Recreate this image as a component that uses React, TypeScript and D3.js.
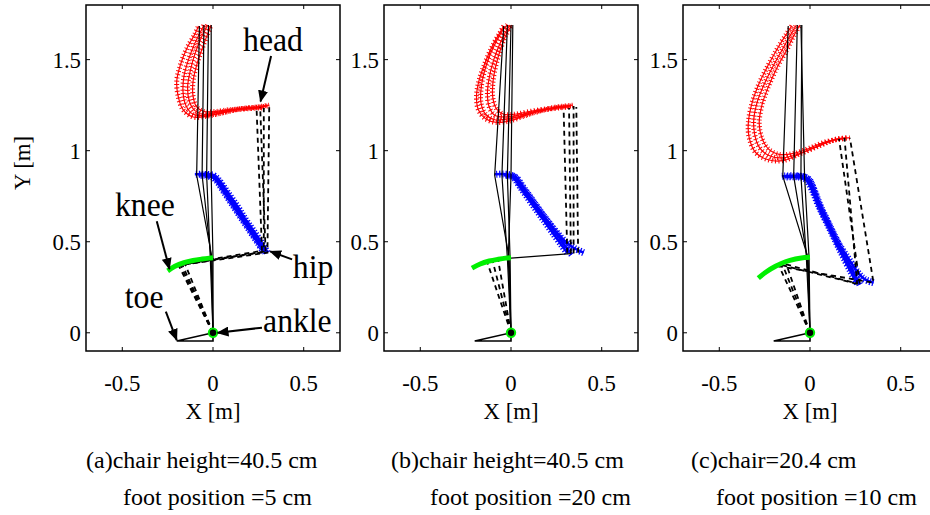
import React from "react";
import * as d3 from "d3";

type Pt = [number, number];

// axis ticks
const xTicks = [-0.5, 0, 0.5];
const xTickLabels = ["-0.5", "0", "0.5"];
const yTicks = [0, 0.5, 1, 1.5];
const yTickLabels = ["0", "0.5", "1", "1.5"];

const captionTop = ["(a)chair height=40.5 cm", "(b)chair height=40.5 cm", "(c)chair=20.4 cm"];
const captionBottom = ["foot position =5 cm", "foot position =20 cm", "foot position =10 cm"];

// ---------- panel (a) ----------
const headA1: Pt[] = [[0.31, 1.25], [0.24, 1.24], [0.15, 1.23], [0.06, 1.21], [-0.03, 1.19], [-0.11, 1.185], [-0.165, 1.225], [-0.19, 1.29], [-0.2, 1.38], [-0.18, 1.47], [-0.145, 1.56], [-0.1, 1.64], [-0.08, 1.685]];
const headA2: Pt[] = [[0.3, 1.245], [0.22, 1.235], [0.13, 1.225], [0.04, 1.205], [-0.04, 1.195], [-0.11, 1.2], [-0.15, 1.25], [-0.165, 1.32], [-0.16, 1.41], [-0.135, 1.5], [-0.1, 1.59], [-0.07, 1.65], [-0.05, 1.69]];
const headA3: Pt[] = [[0.28, 1.24], [0.2, 1.235], [0.11, 1.225], [0.02, 1.21], [-0.05, 1.2], [-0.1, 1.22], [-0.13, 1.27], [-0.14, 1.35], [-0.125, 1.44], [-0.1, 1.53], [-0.065, 1.62], [-0.04, 1.67], [-0.03, 1.69]];
const headA4: Pt[] = [[0.27, 1.235], [0.18, 1.23], [0.09, 1.225], [0.01, 1.215], [-0.05, 1.215], [-0.09, 1.24], [-0.11, 1.3], [-0.11, 1.38], [-0.09, 1.47], [-0.06, 1.56], [-0.03, 1.64], [-0.01, 1.69]];
const hipA1: Pt[] = [[0.3, 0.44], [0.27, 0.49], [0.23, 0.55], [0.18, 0.62], [0.13, 0.7], [0.08, 0.77], [0.03, 0.84], [0.0, 0.865], [-0.05, 0.87], [-0.1, 0.87]];
const hipA2: Pt[] = [[0.28, 0.445], [0.25, 0.49], [0.21, 0.55], [0.16, 0.625], [0.11, 0.7], [0.06, 0.775], [0.02, 0.835], [-0.01, 0.86], [-0.05, 0.865], [-0.08, 0.865]];
const hipA3: Pt[] = [[0.29, 0.44], [0.26, 0.485], [0.22, 0.545], [0.17, 0.62], [0.12, 0.695], [0.07, 0.77], [0.03, 0.83], [0.0, 0.855], [-0.04, 0.86]];
const kneeA: Pt[] = [[-0.25, 0.34], [-0.21, 0.365], [-0.16, 0.385], [-0.11, 0.397], [-0.06, 0.405], [-0.02, 0.41], [0.0, 0.412]];
const standA: Pt[][] = [
  [[0, 0], [-0.005, 0.41], [-0.09, 0.865], [-0.075, 1.685]],
  [[0, 0], [-0.01, 0.41], [-0.06, 0.865], [-0.05, 1.69]],
  [[0, 0], [-0.015, 0.41], [-0.035, 0.865], [-0.025, 1.69]],
  [[0, 0], [0.0, 0.41], [-0.01, 0.865], [-0.01, 1.69]],
];
const sitA: Pt[][] = [
  [[0, 0], [-0.17, 0.375], [0.28, 0.445], [0.28, 1.235]],
  [[0, 0], [-0.19, 0.37], [0.3, 0.44], [0.31, 1.245]],
  [[0, 0], [-0.155, 0.38], [0.27, 0.45], [0.24, 1.235]],
  [[0, 0], [-0.18, 0.372], [0.29, 0.445], [0.26, 1.24]],
];

// ---------- panel (b) ----------
const headB1: Pt[] = [[0.34, 1.25], [0.25, 1.24], [0.16, 1.22], [0.07, 1.19], [0.0, 1.165], [-0.08, 1.155], [-0.14, 1.175], [-0.18, 1.225], [-0.19, 1.3], [-0.175, 1.39], [-0.14, 1.49], [-0.1, 1.58], [-0.06, 1.65], [-0.04, 1.685]];
const headB2: Pt[] = [[0.33, 1.245], [0.24, 1.235], [0.15, 1.215], [0.06, 1.19], [-0.02, 1.175], [-0.09, 1.17], [-0.14, 1.2], [-0.165, 1.26], [-0.165, 1.34], [-0.145, 1.44], [-0.11, 1.54], [-0.07, 1.62], [-0.04, 1.67], [-0.02, 1.69]];
const headB3: Pt[] = [[0.32, 1.24], [0.22, 1.23], [0.13, 1.215], [0.04, 1.195], [-0.03, 1.185], [-0.09, 1.195], [-0.12, 1.24], [-0.13, 1.31], [-0.12, 1.4], [-0.095, 1.5], [-0.06, 1.59], [-0.03, 1.65], [-0.005, 1.69]];
const headB4: Pt[] = [[0.3, 1.24], [0.2, 1.23], [0.1, 1.215], [0.02, 1.2], [-0.04, 1.2], [-0.08, 1.23], [-0.1, 1.29], [-0.1, 1.37], [-0.085, 1.46], [-0.06, 1.55], [-0.03, 1.63], [0.005, 1.69]];
const hipB1: Pt[] = [[0.335, 0.43], [0.3, 0.475], [0.26, 0.53], [0.21, 0.6], [0.16, 0.665], [0.11, 0.735], [0.06, 0.8], [0.02, 0.855], [-0.02, 0.87], [-0.09, 0.87]];
const hipB2: Pt[] = [[0.31, 0.44], [0.28, 0.48], [0.24, 0.535], [0.19, 0.605], [0.14, 0.675], [0.09, 0.745], [0.045, 0.81], [0.01, 0.855], [-0.04, 0.865]];
const hipB3: Pt[] = [[0.4, 0.44], [0.34, 0.47], [0.28, 0.52], [0.22, 0.59], [0.17, 0.655], [0.12, 0.725], [0.07, 0.795], [0.03, 0.85], [0.0, 0.865]];
const kneeB: Pt[] = [[-0.215, 0.355], [-0.17, 0.378], [-0.12, 0.394], [-0.07, 0.404], [-0.03, 0.41], [0.0, 0.412]];
const standB: Pt[][] = [
  [[0, 0], [-0.01, 0.41], [-0.09, 0.865], [-0.04, 1.685]],
  [[0, 0], [-0.02, 0.41], [-0.05, 0.865], [-0.02, 1.69]],
  [[0, 0], [-0.005, 0.41], [-0.02, 0.865], [0.0, 1.69]],
  [[0, 0], [-0.015, 0.41], [0.0, 0.865], [0.01, 1.69]],
  [[0.0, 0.41], [0.33, 0.435]],
];
const sitB: Pt[][] = [
  [[0, 0], [-0.1, 0.39]],
  [[0, 0], [-0.13, 0.385]],
  [[0, 0], [-0.07, 0.395]],
  [[0.33, 0.435], [0.32, 1.235]],
  [[0.345, 0.435], [0.345, 1.245]],
  [[0.31, 0.44], [0.29, 1.23]],
  [[0.37, 0.44], [0.36, 1.24]],
];

// ---------- panel (c) ----------
const headC1: Pt[] = [[0.22, 1.07], [0.15, 1.065], [0.06, 1.03], [-0.05, 0.985], [-0.15, 0.945], [-0.23, 0.95], [-0.3, 0.99], [-0.335, 1.07], [-0.34, 1.15], [-0.32, 1.26], [-0.28, 1.37], [-0.23, 1.47], [-0.18, 1.56], [-0.13, 1.64], [-0.1, 1.685]];
const headC2: Pt[] = [[0.2, 1.07], [0.12, 1.055], [0.03, 1.02], [-0.07, 0.98], [-0.16, 0.96], [-0.23, 0.975], [-0.28, 1.02], [-0.305, 1.09], [-0.31, 1.17], [-0.29, 1.27], [-0.25, 1.37], [-0.2, 1.47], [-0.15, 1.56], [-0.105, 1.64], [-0.075, 1.69]];
const headC3: Pt[] = [[0.18, 1.065], [0.09, 1.05], [0.0, 1.015], [-0.09, 0.985], [-0.17, 0.98], [-0.23, 1.01], [-0.265, 1.07], [-0.28, 1.15], [-0.265, 1.25], [-0.23, 1.35], [-0.18, 1.46], [-0.13, 1.55], [-0.09, 1.63], [-0.055, 1.69]];
const hipC1: Pt[] = [[0.275, 0.265], [0.24, 0.33], [0.18, 0.44], [0.11, 0.585], [0.055, 0.7], [0.02, 0.79], [-0.01, 0.845], [-0.05, 0.86], [-0.155, 0.86]];
const hipC2: Pt[] = [[0.35, 0.275], [0.3, 0.295], [0.265, 0.33], [0.21, 0.41], [0.15, 0.5], [0.1, 0.6], [0.055, 0.69], [0.025, 0.77], [0.0, 0.83], [-0.03, 0.855], [-0.08, 0.86]];
const hipC3: Pt[] = [[0.26, 0.27], [0.225, 0.335], [0.17, 0.445], [0.1, 0.59], [0.045, 0.705], [0.01, 0.79], [-0.02, 0.84], [-0.06, 0.855], [-0.14, 0.855]];
const kneeC: Pt[] = [[-0.285, 0.3], [-0.24, 0.335], [-0.19, 0.365], [-0.135, 0.39], [-0.08, 0.405], [-0.03, 0.413], [0.0, 0.415]];
const standC: Pt[][] = [
  [[0, 0], [-0.01, 0.41], [-0.15, 0.86], [-0.12, 1.685]],
  [[0, 0], [-0.015, 0.41], [-0.09, 0.86], [-0.07, 1.69]],
  [[0, 0], [-0.02, 0.41], [-0.05, 0.86], [-0.045, 1.69]],
  [[0, 0], [-0.005, 0.41], [-0.03, 0.86], [-0.05, 1.69]],
];
const sitC: Pt[][] = [
  [[0, 0], [-0.15, 0.37], [0.275, 0.265], [0.16, 1.065]],
  [[0, 0], [-0.17, 0.365], [0.35, 0.275], [0.22, 1.07]],
  [[0, 0], [-0.13, 0.375], [0.26, 0.27], [0.19, 1.07]],
];

const foot: Pt[] = [[0, 0], [-0.2, -0.045], [0, -0.045], [0, 0]];

const panels = [
  { heads: [headA1, headA2, headA3, headA4], hips: [hipA1, hipA2, hipA3], knee: kneeA, solid: standA, dashed: sitA },
  { heads: [headB1, headB2, headB3, headB4], hips: [hipB1, hipB2, hipB3], knee: kneeB, solid: standB, dashed: sitB },
  { heads: [headC1, headC2, headC3], hips: [hipC1, hipC2, hipC3], knee: kneeC, solid: standC, dashed: sitC },
];

// layout (pixels)
const plotTop = 5, plotBottom = 351, plotWidth = 254;
const layout = [
  { left: 86, cap1: 86, cap2: 123 },
  { left: 384, cap1: 391, cap2: 430 },
  { left: 683, cap1: 691, cap2: 716 },
];

// annotations on panel (a), in data units
const annoLabels = ["head", "knee", "hip", "toe", "ankle"];
const annoText: Pt[] = [[0.166, 1.547], [-0.54, 0.641], [0.44, 0.3], [-0.486, 0.138], [0.276, 0.005]];
const annoFrom: Pt[] = [[0.32, 1.52], [-0.31, 0.613], [0.436, 0.403], [-0.26, 0.116], [0.27, 0.028]];
const annoTo: Pt[] = [[0.262, 1.27], [-0.24, 0.35], [0.315, 0.447], [-0.2, -0.04], [0.025, 0.0]];

const FONT = '"Liberation Serif", "Times New Roman", Tinos, "DejaVu Serif", serif';

// narrow serif text, like the reference's slightly compressed glyphs
function T({ x, y, anchor = "start", size = 24, sx = 0.95, dy, children }: any) {
  return (
    <text transform={`translate(${x},${y}) scale(${sx},1)`} dy={dy} textAnchor={anchor}
      style={{ fontFamily: FONT, fontSize: `${size}px` }} fill="#000">{children}</text>
  );
}

function Panel({ idx }: { idx: number }) {
  const p = panels[idx];
  const L = layout[idx];
  const x = d3.scaleLinear().domain([-0.7, 0.7]).range([L.left, L.left + plotWidth]);
  const y = d3.scaleLinear().domain([-0.1, 1.8]).range([plotBottom, plotTop]);
  const smooth = d3.line<Pt>().x(d => x(d[0])).y(d => y(d[1])).curve(d3.curveCatmullRom.alpha(0.5));
  const straight = d3.line<Pt>().x(d => x(d[0])).y(d => y(d[1]));
  const clipId = `clip${idx}`;
  const x0 = x(0);

  return (
    <g>
      <defs>
        <clipPath id={clipId}>
          <rect x={L.left} y={plotTop} width={plotWidth} height={plotBottom - plotTop} />
        </clipPath>
      </defs>
      <g clipPath={`url(#${clipId})`}>
        {p.heads.map((h, i) => (
          <g key={"h" + i}>
            <path d={smooth(h) || ""} fill="none" stroke="#ff0000" strokeWidth={1.2} />
            <path d={smooth(h) || ""} fill="none" stroke="#ff0000" strokeWidth={5} strokeDasharray="1 2.4" />
          </g>
        ))}
        {p.hips.map((h, i) => (
          <g key={"p" + i}>
            <path d={smooth(h) || ""} fill="none" stroke="#0000ff" strokeWidth={2.5} />
            <path d={smooth(h) || ""} fill="none" stroke="#0000ff" strokeWidth={7} strokeDasharray="1.2 1.8" />
          </g>
        ))}
        {p.dashed.map((s, i) => (
          <path key={"d" + i} d={straight(s) || ""} fill="none" stroke="#000" strokeWidth={1.8} strokeDasharray="5 4" />
        ))}
        {p.solid.map((s, i) => (
          <path key={"s" + i} d={straight(s) || ""} fill="none" stroke="#000" strokeWidth={1.2} />
        ))}
        <path d={straight(foot) || ""} fill="none" stroke="#000" strokeWidth={1.6} />
        <path d={smooth(p.knee) || ""} fill="none" stroke="#00f000" strokeWidth={5} />
        <circle cx={x0} cy={y(0)} r={4.2} fill="#000" stroke="#00f000" strokeWidth={2} />
      </g>
      {/* box */}
      <rect x={L.left} y={plotTop} width={plotWidth} height={plotBottom - plotTop} fill="none" stroke="#000" strokeWidth={1.5} />
      {xTicks.map(t => (
        <g key={"xt" + t}>
          <line x1={x(t)} x2={x(t)} y1={plotBottom} y2={plotBottom - 4} stroke="#000" />
          <line x1={x(t)} x2={x(t)} y1={plotTop} y2={plotTop + 4} stroke="#000" />
        </g>
      ))}
      {yTicks.map(t => (
        <g key={"yt" + t}>
          <line x1={L.left} x2={L.left + 4} y1={y(t)} y2={y(t)} stroke="#000" />
          <line x1={L.left + plotWidth} x2={L.left + plotWidth - 4} y1={y(t)} y2={y(t)} stroke="#000" />
        </g>
      ))}
      {xTicks.map((t, i) => (
        <T key={"xl" + t} x={x(t)} y={391} anchor="middle">{xTickLabels[i]}</T>
      ))}
      {yTicks.map((t, i) => (
        <T key={"yl" + t} x={L.left - 5} y={y(t)} dy="0.35em" anchor="end">{yTickLabels[i]}</T>
      ))}
      <T x={x0} y={419} anchor="middle">X [m]</T>
      <T x={L.cap1} y={468} sx={1}>{captionTop[idx]}</T>
      <T x={L.cap2} y={505} sx={1}>{captionBottom[idx]}</T>
      {idx === 0 && annoLabels.map((lab, i) => (
        <g key={lab}>
          <T x={x(annoText[i][0])} y={y(annoText[i][1])} size={33} sx={0.96}>{lab}</T>
          <line x1={x(annoFrom[i][0])} y1={y(annoFrom[i][1])} x2={x(annoTo[i][0])} y2={y(annoTo[i][1])}
            stroke="#000" strokeWidth={2} markerEnd="url(#arrowHead)" />
        </g>
      ))}
    </g>
  );
}

export default function App() {
  return (
    <svg width={930} height={515} style={{ position: "absolute", left: 0, top: 0, background: "#fff" }}>
      <defs>
        <marker id="arrowHead" viewBox="0 0 12 10" refX={11} refY={5} markerWidth={6} markerHeight={5} orient="auto" markerUnits="strokeWidth">
          <path d="M0,0 L12,5 L0,10 z" fill="#000" />
        </marker>
      </defs>
      <rect x={0} y={0} width={930} height={515} fill="#fff" />
      <g transform="translate(22,163) rotate(-90)">
        <T x={0} y={0} dy="0.35em" anchor="middle">Y [m]</T>
      </g>
      {[0, 1, 2].map(i => <Panel key={i} idx={i} />)}
    </svg>
  );
}
